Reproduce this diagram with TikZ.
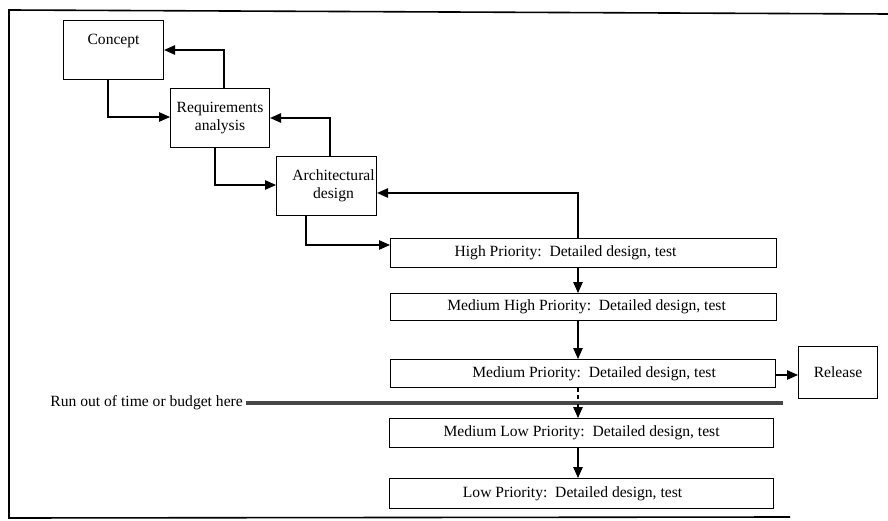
\documentclass[tikz,border=0pt]{standalone}
\usepackage{fontspec}
\setmainfont{Liberation Serif}
\usetikzlibrary{arrows.meta}

\begin{document}
\begin{tikzpicture}[x=1pt,y=-1pt,
  every node/.style={font=\fontsize{15.6}{18}\selectfont},
  box/.style={draw, line width=1.1pt, inner sep=0pt, anchor=north west},
  flow/.style={line width=1.1pt, -{Triangle[length=11pt,width=9.5pt]}},
  cutline/.style={line width=3.4pt, black!72}]

\useasboundingbox (0,0) rectangle (888,521);

% frame, open on the right
\draw[line width=1.6pt] (888,14) -- (9,10) -- (9,518) -- (790,517);

% front-end phases
\node[box, minimum width=100pt, minimum height=59pt,
      label={[anchor=north, yshift=-11pt]north:Concept}] (concept) at (63,20) {};
\node[box, minimum width=99pt, minimum height=59pt, align=center] (req) at (170,88)
  {Requirements\\analysis};
\node[box, minimum width=100pt, minimum height=59pt, align=center] (arch) at (276,156)
  {\hspace*{14pt}Architectural\\\hspace*{14pt}design};

% staged delivery boxes
\node[box, minimum width=386pt, minimum height=29pt,
      label={[xshift=-18pt]center:High Priority:\ \ Detailed design, test}] (hp) at (390,238) {};
\node[box, minimum width=386pt, minimum height=27pt,
      label={[xshift=3pt]center:Medium High Priority:\ \ Detailed design, test}] (mhp) at (390,293) {};
\node[box, minimum width=385pt, minimum height=28pt,
      label={[xshift=11pt]center:Medium Priority:\ \ Detailed design, test}] (mp) at (390,359) {};
\node[box, minimum width=79pt, minimum height=52pt] (rel) at (798,346) {Release};
\node[box, minimum width=384pt, minimum height=29pt,
      label={[xshift=0pt]center:Medium Low Priority:\ \ Detailed design, test}] (mlp) at (389,418) {};
\node[box, minimum width=384pt, minimum height=30pt,
      label={[xshift=-9pt]center:Low Priority:\ \ Detailed design, test}] (lp) at (389,478) {};

% cut-off marker
\node[anchor=east, inner sep=0pt] (cut) at (243,403) {Run out of time or budget here};
\coordinate (cutend) at (783,403);
\draw[cutline] ([xshift=3pt]cut.east) -- (cutend);

% forward flow
\draw[flow] (concept.south -| 108,0) |- (req.west |- 0,117);
\draw[flow] (req.south -| 215,0) |- (arch.west |- 0,185);
\draw[flow] (arch.south -| 306,0) |- (hp.west |- 0,245);
\draw[flow] (hp.south -| 578,0) -- (mhp.north -| 578,0);
\draw[flow] (mhp.south -| 578,0) -- (mp.north -| 578,0);
\draw[flow] (mp.east |- 0,375) -- (rel.west |- 0,375);
\draw[line width=1.1pt, dashed, dash pattern=on 4pt off 3pt] (mp.south -| 578,0) -- (578,401);
\draw[flow] (578,404) -- (mlp.north -| 578,0);
\draw[flow] (mlp.south -| 578,0) -- (lp.north -| 578,0);

% feedback flow
\draw[flow] (req.north -| 224,0) |- (concept.east |- 0,50);
\draw[flow] (arch.north -| 330,0) |- (req.east |- 0,118);
\draw[flow] (hp.north -| 578,0) |- (arch.east |- 0,193);

\end{tikzpicture}
\end{document}
